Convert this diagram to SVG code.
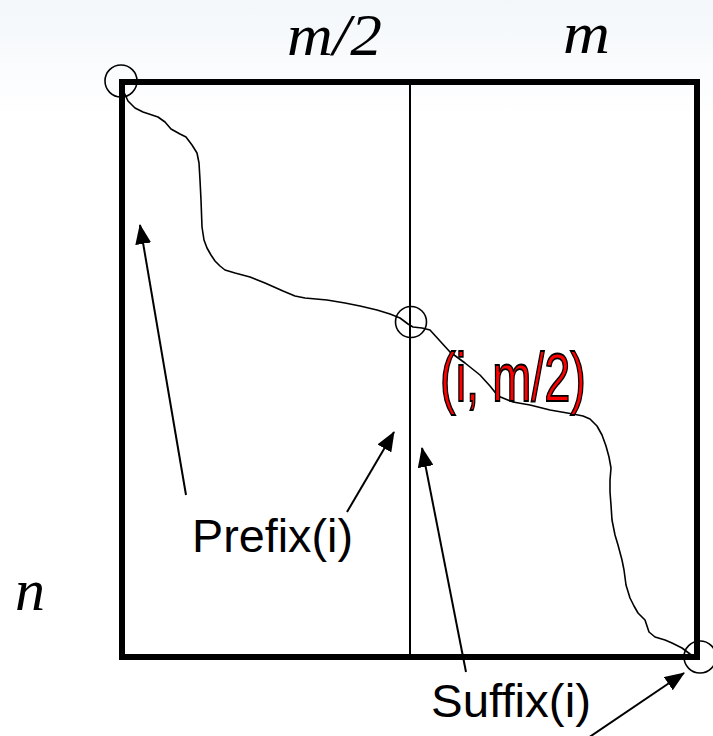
<svg xmlns="http://www.w3.org/2000/svg" width="713" height="736" viewBox="0 0 713 736">
  <defs>
    <linearGradient id="bg" x1="0" y1="0" x2="0" y2="1">
      <stop offset="0" stop-color="#f3f7fa"/>
      <stop offset="1" stop-color="#ffffff"/>
    </linearGradient>
    <marker id="ah" viewBox="0 0 20 16" refX="19" refY="8" markerWidth="20" markerHeight="16" markerUnits="userSpaceOnUse" orient="auto">
      <path d="M0,0 L20,8 L0,16 Z" fill="#000"/>
    </marker>
    <style>
      .frame { fill: none; stroke: #000; stroke-width: 6; }
      .thin { fill: none; stroke: #000; stroke-width: 2; }
      .curve { fill: none; stroke: #000; stroke-width: 1.6; stroke-linejoin: round; stroke-linecap: round; }
      .ring { fill: none; stroke: #000; stroke-width: 1.6; }
      .arrow { fill: none; stroke: #000; stroke-width: 2; marker-end: url(#ah); }
      .math { font-family: "Liberation Serif", "Times New Roman", serif; font-style: italic; font-size: 60px; fill: #000; }
      .lbl { font-family: "Liberation Sans", Arial, sans-serif; font-size: 46px; fill: #000; }
      .red { font-family: "Liberation Sans", Arial, sans-serif; font-size: 68px; fill: #ff0000; stroke: #000; stroke-width: 1.8; }
    </style>
  </defs>
  <rect x="0" y="0" width="713" height="120" fill="url(#bg)"/>
  <rect x="0" y="120" width="713" height="616" fill="#ffffff"/>

  <g id="grid">
    <rect class="frame" x="122" y="82" width="575" height="575"/>
    <line class="thin" x1="410" y1="82" x2="410" y2="657"/>
  </g>

  <g id="path-curve">
    <path class="curve" d="M122,88 L128,101 L135,108 L143,112 L158,117 L165,122 L171,129 L180,134 L186,137 L192,145 L197,153 L199,163 L200,180 L201,200 L202,227 L204,240 L207,248 L211,255 L215,261 L220,266 L225,270 L235,273 L250,277 L265,283 L283,291 L295,296 L305,298 L327,300 L345,303 L360,306 L377,310 L390,314 L400,318 L408,324 L413,327 L422,328 L430,330 L440,341 L450,352 L465,363 L480,375 L490,386 L498,396 L513,402 L530,405 L550,410 L573,414 L583,416 L590,419 L597,426 L602,435 L606,446 L609,457 L611,468 L610,480 L610,492 L611,505 L612,520 L615,535 L618,545 L622,560 L624,570 L626,585 L630,598 L634,606 L638,613 L645,620 L647,626 L649,632 L655,637 L665,640 L672,643 L682,648 L690,654 L697,658"/>
  </g>

  <g id="circle-start"><circle class="ring" cx="121" cy="81" r="16"/></g>
  <g id="circle-mid"><circle class="ring" cx="411" cy="322" r="15.5"/></g>
  <g id="circle-end"><circle class="ring" cx="700" cy="657" r="16"/></g>

  <g id="label-m2"><text class="math" x="287" y="55" textLength="95" lengthAdjust="spacingAndGlyphs">m/2</text></g>
  <g id="label-m"><text class="math" x="563" y="53" textLength="47" lengthAdjust="spacingAndGlyphs">m</text></g>
  <g id="label-n"><text class="math" x="15" y="610">n</text></g>

  <g id="label-point"><text class="red" x="440" y="401" textLength="146" lengthAdjust="spacingAndGlyphs">(i, m/2)</text></g>
  <g id="label-prefix"><text class="lbl" x="192" y="552" textLength="161" lengthAdjust="spacingAndGlyphs">Prefix(i)</text></g>
  <g id="label-suffix"><text class="lbl" x="431" y="717" textLength="160" lengthAdjust="spacingAndGlyphs">Suffix(i)</text></g>

  <g id="connectors">
    <line class="arrow" x1="186" y1="495" x2="140" y2="225"/>
    <line class="arrow" x1="347" y1="512" x2="394" y2="432"/>
    <line class="arrow" x1="466" y1="672" x2="422" y2="448"/>
    <line class="arrow" x1="588" y1="738" x2="684" y2="673"/>
  </g>
</svg>
